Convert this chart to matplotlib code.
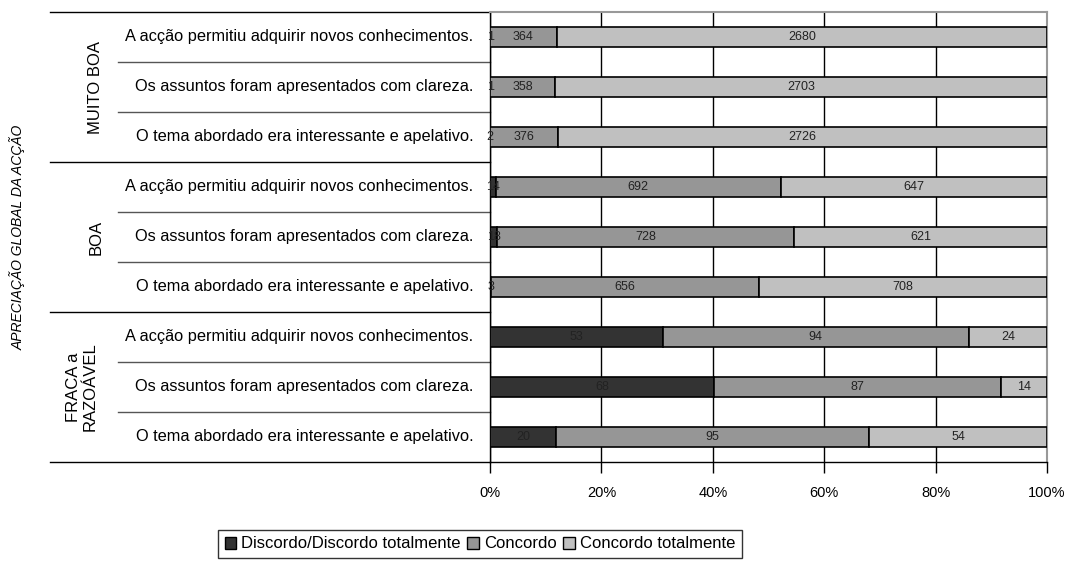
import numpy as np
import matplotlib
matplotlib.use("Agg")
import matplotlib.pyplot as plt
from matplotlib.transforms import blended_transform_factory
from matplotlib.patches import Patch

plt.rcParams['font.family'] = ['Liberation Sans', 'DejaVu Sans']

# data (top to bottom)
groups = ["MUITO BOA", "BOA", "FRACA a\nRAZOÁVEL"]
items = ["A acção permitiu adquirir novos conhecimentos.",
         "Os assuntos foram apresentados com clareza.",
         "O tema abordado era interessante e apelativo."]
series = ["Discordo/Discordo totalmente", "Concordo", "Concordo totalmente"]
discordo = [1, 1, 2, 14, 18, 3, 53, 68, 20]
concordo = [364, 358, 376, 692, 728, 656, 94, 87, 95]
concordo_tot = [2680, 2703, 2726, 647, 621, 708, 24, 14, 54]
colors = ["#333333", "#969696", "#c0c0c0"]

counts = np.array([discordo, concordo, concordo_tot], dtype=float)
pct = counts / counts.sum(axis=0) * 100
n = counts.shape[1]
ypos = np.arange(n)

fig = plt.figure(figsize=(10.66, 5.62), dpi=100)
ax = fig.add_axes([490/1066, 1 - 462/562, 557/1066, 450/562])

left = np.zeros(n)
for k in range(3):
    ax.barh(ypos, pct[k], left=left, height=0.4, color=colors[k],
            edgecolor="black", linewidth=1.2, zorder=3)
    for i in range(n):
        ax.text(left[i] + pct[k][i] / 2, ypos[i], "%d" % counts[k][i],
                ha="center", va="center", fontsize=9, color="#222222", zorder=4)
    left += pct[k]

ax.set_xlim(0, 100)
ax.set_ylim(n - 0.5, -0.5)
ax.set_xticks(np.arange(0, 101, 20))
ax.set_xticklabels(["%d%%" % v for v in range(0, 101, 20)], fontsize=10.5)
ax.tick_params(axis="x", length=8, width=1, pad=9, direction="out")
ax.set_yticks([])
ax.grid(axis="x", color="black", linewidth=1, zorder=0)
for s in ["top", "right"]:
    ax.spines[s].set_color("#999999")
    ax.spines[s].set_linewidth(1.5)
ax.spines["left"].set_linewidth(1)
ax.spines["bottom"].set_linewidth(1)

# category labels and separators
tr = blended_transform_factory(ax.transAxes, ax.transData)
x_far = (50 - 490) / 557
x_near = (118 - 490) / 557
for i in range(n):
    ax.text(-0.03, ypos[i], items[i % 3], transform=tr, ha="right",
            va="center", fontsize=11.8)
for j in range(n + 1):
    y = j - 0.5
    if j % 3 == 0:
        ax.plot([x_far, 0], [y, y], transform=tr, color="black",
                linewidth=1, clip_on=False)
    else:
        ax.plot([x_near, 0], [y, y], transform=tr, color="#555555",
                linewidth=1, clip_on=False)
gx = [96, 96, 82]
for g in range(3):
    ax.text((gx[g] - 490) / 557, 3 * g + 1, groups[g], transform=tr, rotation=90,
            ha="center", va="center", fontsize=12, linespacing=1.1)

fig.text(18 / 1066, 1 - 237 / 562, "APRECIAÇÃO GLOBAL DA ACÇÃO", rotation=90,
         ha="center", va="center", fontsize=10, style="italic")

handles = [Patch(facecolor=c, edgecolor="black", linewidth=1) for c in colors]
leg = fig.legend(handles, series, loc="center", ncol=3,
                 bbox_to_anchor=(480 / 1066, 1 - 544 / 562), fontsize=12,
                 frameon=True, fancybox=False, handlelength=0.7,
                 handleheight=0.7, handletextpad=0.3, columnspacing=0.4,
                 borderpad=0.4)
leg.get_frame().set_edgecolor("black")
leg.get_frame().set_linewidth(1)

fig.savefig("out.png", dpi=100)
